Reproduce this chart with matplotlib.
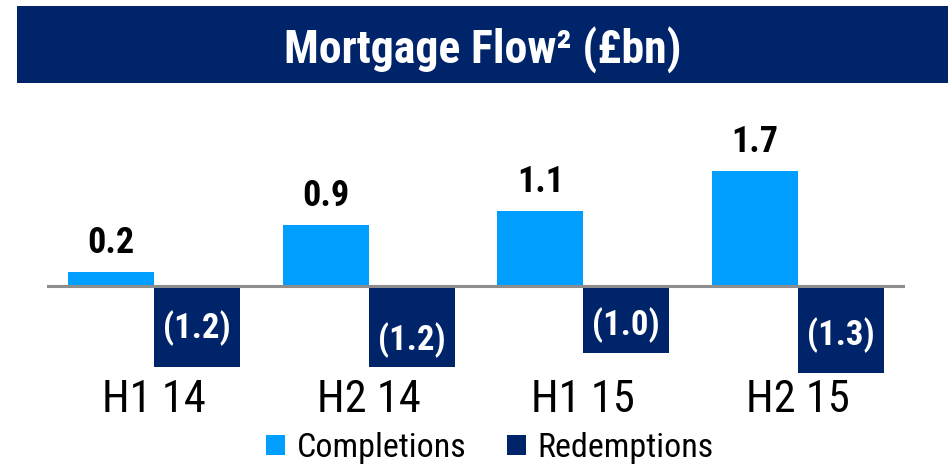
import matplotlib
matplotlib.use("Agg")
import matplotlib.pyplot as plt
from matplotlib import font_manager
from matplotlib.patches import Rectangle, Patch
import numpy as np

# ---- data ----
categories = ["H1 14", "H2 14", "H1 15", "H2 15"]
completions = [0.2, 0.9, 1.1, 1.7]
redemptions = [-1.2, -1.2, -1.0, -1.3]
series_names = ["Completions", "Redemptions"]
title_text = "Mortgage Flow\u00b2 (\u00a3bn)"

# ---- style ----
LIGHT = "#009FFF"
NAVY = "#00246A"
names = {f.name for f in font_manager.fontManager.ttflist}
FONT = "Roboto Condensed" if "Roboto Condensed" in names else "Liberation Sans"
COND = FONT != "Liberation Sans"
plt.rcParams["font.family"] = [FONT, "DejaVu Sans"]

TITLE_FS = 33 if COND else 28
VAL_FS = 26 if COND else 23
RED_FS = 25 if COND else 23
CAT_FS = 32 if COND else 27
LEG_FS = 24.5 if COND else 21

W, H = 951, 470
fig = plt.figure(figsize=(W / 100, H / 100), dpi=100)

def fx(px):
    return px / W

def fy(py):
    return 1 - py / H

# title banner
fig.patches.append(Rectangle((fx(17), fy(83)), fx(948) - fx(17), fy(6) - fy(83),
                             transform=fig.transFigure, facecolor=NAVY, edgecolor="none", zorder=0))
fig.text(fx(482.5), fy(63), title_text, color="white", fontsize=TITLE_FS,
         fontweight="bold", ha="center", va="baseline")

# axes
ax_top, ax_bot = 100, 379
base_px = 285.7
ppu = 67.5
ax = fig.add_axes([fx(47), fy(ax_bot), fx(905) - fx(47), fy(ax_top) - fy(ax_bot)])
ax.set_xlim(-0.5, 3.5)
ax.set_ylim(-(ax_bot - base_px) / ppu, (base_px - ax_top) / ppu)

x = np.arange(len(categories))
w = 0.4
ax.bar(x - w / 2, completions, w, color=LIGHT, zorder=2)
ax.bar(x + w / 2, redemptions, w, color=NAVY, zorder=2)
ax.axhline(0, color="#8C8C8C", lw=2.2, zorder=3)

for xi, v in zip(x, completions):
    ax.annotate(f"{v:.1f}", (xi - w / 2, v), xytext=(0, 19 * 0.72), textcoords="offset points",
                ha="center", va="baseline", fontsize=VAL_FS, fontweight="bold", color="black")

red_shift = [2, 14, 6, 6]
for xi, v, s in zip(x, redemptions, red_shift):
    ax.annotate(f"({abs(v):.1f})", (xi + w / 2, v / 2), xytext=(0, -s * 0.72), textcoords="offset points",
                ha="center", va="center", fontsize=RED_FS, fontweight="bold", color="white", zorder=4)

ax.set_xticks(x)
ax.set_xticklabels(categories, fontsize=CAT_FS)
ax.tick_params(axis="x", length=0, pad=0)
ax.set_yticks([])
for sp in ax.spines.values():
    sp.set_visible(False)
ax.patch.set_alpha(0)

handles = [Patch(facecolor=LIGHT, edgecolor="none"), Patch(facecolor=NAVY, edgecolor="none")]
fig.legend(handles, series_names, loc="center", bbox_to_anchor=(fx(490), fy(448)), ncol=2,
           frameon=False, fontsize=LEG_FS, handlelength=0.55, handleheight=0.55,
           handletextpad=0.35, columnspacing=1.2, borderpad=0, borderaxespad=0)

fig.savefig("out.png", dpi=100)
